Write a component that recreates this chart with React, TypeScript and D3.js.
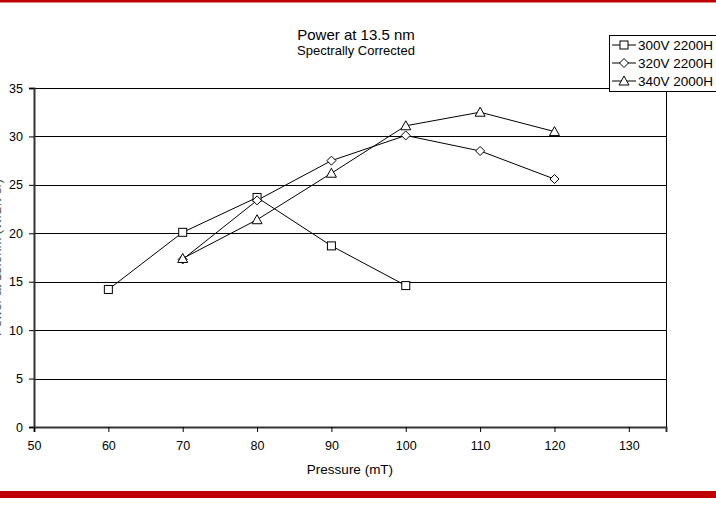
import React, { useEffect, useRef } from "react";
import * as d3 from "d3";

const pressures300 = [60, 70, 80, 90, 100];
const power300 = [14.2, 20.1, 23.7, 18.7, 14.6];
const pressures320 = [70, 80, 90, 100, 110, 120];
const power320 = [17.3, 23.4, 27.5, 30.1, 28.5, 25.6];
const pressures340 = [70, 80, 90, 100, 110, 120];
const power340 = [17.4, 21.4, 26.2, 31.1, 32.5, 30.5];
const seriesNames = ["300V 2200H", "320V 2200H", "340V 2000H"];
const markerTypes = ["square", "diamond", "triangle"];
const xTicks = [50, 60, 70, 80, 90, 100, 110, 120, 130];
const yTicks = [0, 5, 10, 15, 20, 25, 30, 35];

const W = 716,
  H = 507;

const App = () => {
  const svgRef = useRef<SVGSVGElement>(null);

  useEffect(() => {
    const svg = d3.select(svgRef.current);
    svg.selectAll("*").remove();
    const font = "Liberation Sans, Arial, sans-serif";

    const margin = { left: 34, right: 50, top: 88, bottom: 80 };
    const x = d3.scaleLinear().domain([50, 135]).range([margin.left, W - margin.right]);
    const y = d3.scaleLinear().domain([0, 35]).range([H - margin.bottom, margin.top]);

    // red bands
    svg.append("rect").attr("x", 0).attr("y", 0).attr("width", W).attr("height", 2.5).attr("fill", "#c00000");
    svg.append("rect").attr("x", 0).attr("y", 491).attr("width", W).attr("height", 7).attr("fill", "#c00000");

    // grid lines
    svg
      .append("g")
      .selectAll("line")
      .data(yTicks.filter((d) => d > 0))
      .join("line")
      .attr("x1", x(50))
      .attr("x2", x(135))
      .attr("y1", (d) => Math.round(y(d)) + 0.5)
      .attr("y2", (d) => Math.round(y(d)) + 0.5)
      .attr("stroke", "#000")
      .attr("stroke-width", 1);

    // right border
    svg
      .append("line")
      .attr("x1", Math.round(x(135)) + 0.5)
      .attr("x2", Math.round(x(135)) + 0.5)
      .attr("y1", y(35))
      .attr("y2", y(0))
      .attr("stroke", "#000");

    // y axis
    svg
      .append("g")
      .attr("transform", `translate(${x(50)},0)`)
      .call(d3.axisLeft(y).tickValues(yTicks).tickSize(5).tickPadding(6).tickFormat(d3.format("d")))
      .call((g) => g.select(".domain").attr("stroke", "#333").attr("stroke-width", 2))
      .call((g) => g.selectAll(".tick line").attr("stroke", "#000"))
      .call((g) => g.selectAll("text").attr("fill", "#000").attr("font-size", 12.5).attr("font-family", font));

    // x axis
    svg
      .append("g")
      .attr("transform", `translate(0,${y(0)})`)
      .call(d3.axisBottom(x).tickValues(xTicks).tickSize(5).tickPadding(9).tickFormat(d3.format("d")))
      .call((g) => g.select(".domain").attr("stroke", "#333").attr("stroke-width", 2))
      .call((g) => g.selectAll(".tick line").attr("stroke", "#000"))
      .call((g) => g.selectAll("text").attr("fill", "#000").attr("font-size", 12.5).attr("font-family", font));

    // titles
    svg
      .append("text")
      .attr("x", 356)
      .attr("y", 40)
      .attr("text-anchor", "middle")
      .attr("font-family", font)
      .attr("font-size", 15)
      .text("Power at 13.5 nm");
    svg
      .append("text")
      .attr("x", 356)
      .attr("y", 55)
      .attr("text-anchor", "middle")
      .attr("font-family", font)
      .attr("font-size", 13)
      .text("Spectrally Corrected");
    svg
      .append("text")
      .attr("x", 350)
      .attr("y", 474)
      .attr("text-anchor", "middle")
      .attr("font-family", font)
      .attr("font-size", 13.5)
      .text("Pressure (mT)");
    svg
      .append("text")
      .attr("transform", `translate(0.5,${(y(0) + y(35)) / 2}) rotate(-90)`)
      .attr("text-anchor", "middle")
      .attr("font-family", font)
      .attr("font-size", 13)
      .attr("fill", "#555")
      .text("Power at 13.5nm (W/2π sr)");

    const series = [
      pressures300.map((p, i) => [p, power300[i]]),
      pressures320.map((p, i) => [p, power320[i]]),
      pressures340.map((p, i) => [p, power340[i]]),
    ];

    const drawMarker = (g: any, type: string, cx: number, cy: number) => {
      if (type === "square") {
        g.append("rect")
          .attr("x", cx - 4)
          .attr("y", cy - 4)
          .attr("width", 8)
          .attr("height", 8)
          .attr("fill", "#fff")
          .attr("stroke", "#000");
      } else if (type === "diamond") {
        g.append("path")
          .attr("d", `M${cx},${cy - 4.5}L${cx + 4.5},${cy}L${cx},${cy + 4.5}L${cx - 4.5},${cy}Z`)
          .attr("fill", "#fff")
          .attr("stroke", "#000");
      } else {
        g.append("path")
          .attr("d", `M${cx},${cy - 5}L${cx + 5},${cy + 4}L${cx - 5},${cy + 4}Z`)
          .attr("fill", "#fff")
          .attr("stroke", "#000");
      }
    };

    const line = d3
      .line<number[]>()
      .x((d) => x(d[0]))
      .y((d) => y(d[1]));

    series.forEach((data) => {
      svg.append("path").datum(data).attr("fill", "none").attr("stroke", "#000").attr("stroke-width", 1).attr("d", line);
    });
    series.forEach((data, si) => {
      const g = svg.append("g");
      data.forEach((d) => drawMarker(g, markerTypes[si], x(d[0]), y(d[1])));
    });

    // legend, running past the right edge as in the original
    const lg = svg.append("g");
    lg.append("rect")
      .attr("x", 609.5)
      .attr("y", 35.5)
      .attr("width", 120)
      .attr("height", 56)
      .attr("fill", "#fff")
      .attr("stroke", "#000");
    seriesNames.forEach((name, i) => {
      const cy = 45 + i * 18;
      lg.append("line").attr("x1", 612).attr("x2", 636).attr("y1", cy).attr("y2", cy).attr("stroke", "#000");
      drawMarker(lg, markerTypes[i], 624, cy);
      lg.append("text")
        .attr("x", 638)
        .attr("y", cy + 5)
        .attr("font-family", font)
        .attr("font-size", 13.5)
        .text(name);
    });
  }, []);

  return (
    <div style={{ position: "fixed", left: 0, top: 0, width: W, height: H, background: "#fff" }}>
      <svg ref={svgRef} width={W} height={H}></svg>
    </div>
  );
};

export default App;
